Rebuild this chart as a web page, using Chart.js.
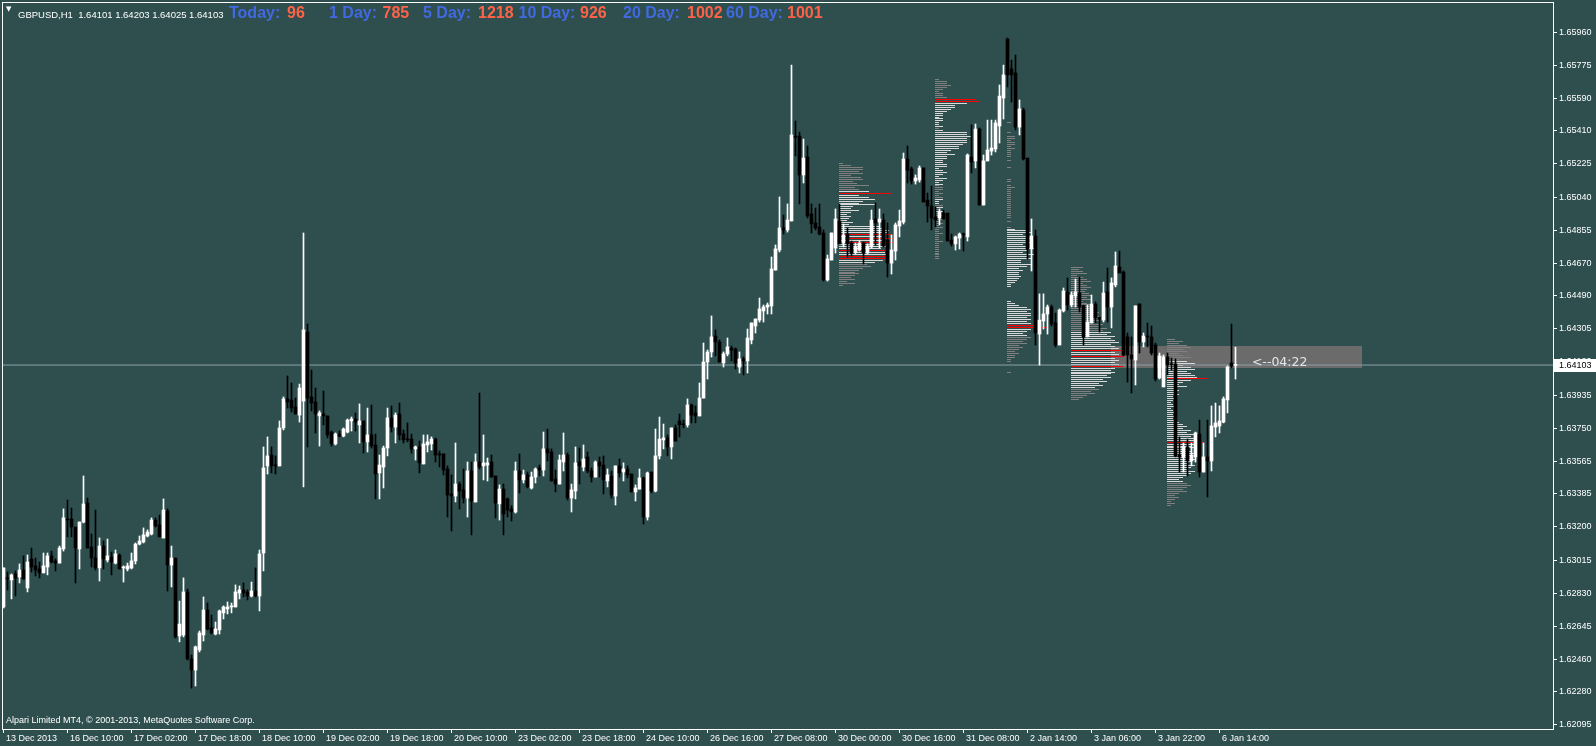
<!DOCTYPE html>
<html>
<head>
<meta charset="utf-8">
<script src="https://cdn.jsdelivr.net/npm/chart.js@4.4.1/dist/chart.umd.min.js"></script>
<style>
  html, body { margin: 0; padding: 0; background: #2F4F4F; overflow: hidden; }
  #wrap { position: relative; width: 1596px; height: 746px; }
  #chart { position: absolute; left: 0; top: 0; }
  .txt { position: absolute; white-space: pre; font-family: "Liberation Sans", Arial, sans-serif; line-height: 10px; }
  #tri { left: 6px; top: 4px; font-size: 7px; color: #fff; font-family: "DejaVu Sans", sans-serif; }
  #sym { left: 18px; top: 10px; font-size: 9.5px; color: #fff; }
  .stat { top: 5px; font-size: 16px; font-weight: bold; line-height: 16px; }
  .lbl { color: #4169E1; }
  .val { color: #FF6347; }
  #copy { left: 6px; top: 715px; font-size: 9px; color: #fff; }
</style>
</head>
<body>
<div id="wrap">
  <canvas id="chart" width="1596" height="746"></canvas>
  <div id="tri" class="txt">▼</div>
  <div id="sym" class="txt"></div>
  <div id="copy" class="txt">Alpari Limited MT4, © 2001-2013, MetaQuotes Software Corp.</div>
</div>
<script>
// GBPUSD H1 bars, 13 Dec 2013 18:00 .. 6 Jan 2014 18:00
const opens = [
  1.62753,1.62915,1.62904,1.62937,1.62920,1.62959,1.62859,1.63021,1.62982,1.62965,
  1.62943,1.62976,1.63038,1.63010,1.62998,1.63077,1.63244,1.63244,1.63199,1.63077,
  1.63227,1.63333,1.63088,1.63026,1.62971,1.63093,1.63015,1.63032,1.62998,1.63043,
  1.62971,1.62965,1.62971,1.63010,1.63104,1.63116,1.63149,1.63160,1.63238,1.63211,
  1.63138,1.63289,1.62987,1.63026,1.62591,1.62597,1.62837,1.62463,1.62401,1.62513,
  1.62597,1.62736,1.62636,1.62602,1.62625,1.62720,1.62742,1.62753,1.62753,1.62831,
  1.62848,1.62837,1.62814,1.62842,1.62814,1.63054,1.63540,1.63601,1.63545,1.63540,
  1.63752,1.63914,1.63908,1.63869,1.63824,1.63902,1.64287,1.63925,1.63897,1.63819,
  1.63830,1.63819,1.63729,1.63663,1.63718,1.63707,1.63729,1.63791,1.63802,1.63769,
  1.63791,1.63674,1.63713,1.63657,1.63501,1.63534,1.63640,1.63808,1.63757,1.63830,
  1.63718,1.63690,1.63690,1.63635,1.63646,1.63551,1.63657,1.63663,1.63690,1.63607,
  1.63607,1.63523,1.63384,1.63372,1.63439,1.63406,1.63361,1.63512,1.63339,1.63562,
  1.63540,1.63545,1.63562,1.63484,1.63328,1.63411,1.63356,1.63300,1.63283,1.63512,
  1.63462,1.63490,1.63417,1.63478,1.63529,1.63517,1.63635,1.63618,1.63467,1.63439,
  1.63562,1.63601,1.63361,1.63400,1.63562,1.63534,1.63590,1.63512,1.63478,1.63562,
  1.63545,1.63456,1.63484,1.63372,1.63540,1.63506,1.63523,1.63495,1.63395,1.63411,
  1.63473,1.63255,1.63506,1.63400,1.63596,1.63685,1.63696,1.63646,1.63752,1.63791,
  1.63774,1.63769,1.63880,1.63836,1.63819,1.63919,1.64120,1.64176,1.64265,1.64232,
  1.64115,1.64165,1.64198,1.64193,1.64092,1.64137,1.64126,1.64243,1.64321,1.64354,
  1.64405,1.64427,1.64433,1.64633,1.64745,1.64868,1.64857,1.64907,1.65381,1.65381,
  1.65164,1.65264,1.64946,1.64896,1.64873,1.64840,1.64578,1.64689,1.64756,1.64907,
  1.64784,1.64834,1.64784,1.64734,1.64745,1.64784,1.64728,1.64762,1.64918,1.64901,
  1.64912,1.64801,1.64672,1.64739,1.64879,1.64901,1.65253,1.65197,1.65130,1.65136,
  1.65203,1.65024,1.64991,1.64929,1.64924,1.64951,1.64951,1.64801,1.64779,1.64812,
  1.64834,1.64818,1.65264,1.65242,1.65420,1.64996,1.65242,1.65297,1.65309,1.65437,
  1.65593,1.65922,1.65755,1.65733,1.65431,1.65526,1.65258,1.64751,1.64823,1.64276,
  1.64349,1.64388,1.64427,1.64338,1.64215,1.64405,1.64511,1.64438,1.64488,1.64505,
  1.64433,1.64260,1.64338,1.64444,1.64366,1.64354,1.64511,1.64427,1.64550,1.64650,
  1.64622,1.64260,1.64159,1.64131,1.64444,1.64232,1.64265,1.64260,1.64215,1.64031,
  1.63981,1.64148,1.64109,1.64109,1.63601,1.63590,1.63646,1.63568,1.63590,1.63718,
  1.63506,1.63590,1.63568,1.63757,1.63763,1.63785,1.63908,1.64115,1.64101
];
const highs = [
  1.62971,1.62948,1.62937,1.62954,1.62993,1.63038,1.63043,1.63082,1.63026,1.63004,
  1.63054,1.63054,1.63065,1.63021,1.63093,1.63300,1.63350,1.63305,1.63199,1.63227,
  1.63484,1.63361,1.63160,1.63294,1.63138,1.63121,1.63132,1.63060,1.63071,1.63049,
  1.62982,1.62998,1.63054,1.63110,1.63149,1.63194,1.63183,1.63250,1.63250,1.63266,
  1.63356,1.63300,1.63093,1.63026,1.62786,1.62915,1.62853,1.62485,1.62535,1.62619,
  1.62809,1.62775,1.62708,1.62669,1.62736,1.62759,1.62781,1.62775,1.62876,1.62870,
  1.62887,1.62848,1.62892,1.62971,1.63071,1.63646,1.63702,1.63646,1.63596,1.63791,
  1.63925,1.64042,1.64003,1.63919,1.63997,1.64840,1.64332,1.64075,1.63975,1.63847,
  1.63958,1.63819,1.63735,1.63724,1.63735,1.63752,1.63802,1.63813,1.63836,1.63886,
  1.63791,1.63863,1.63880,1.63718,1.63601,1.63651,1.63863,1.63875,1.63836,1.63891,
  1.63741,1.63780,1.63718,1.63651,1.63679,1.63713,1.63713,1.63702,1.63696,1.63623,
  1.63607,1.63540,1.63490,1.63668,1.63450,1.63523,1.63562,1.63562,1.63607,1.63947,
  1.63713,1.63584,1.63601,1.63484,1.63434,1.63439,1.63361,1.63317,1.63562,1.63607,
  1.63517,1.63506,1.63506,1.63529,1.63545,1.63729,1.63746,1.63635,1.63517,1.63601,
  1.63724,1.63612,1.63439,1.63646,1.63640,1.63657,1.63618,1.63529,1.63568,1.63590,
  1.63596,1.63523,1.63512,1.63540,1.63579,1.63557,1.63540,1.63495,1.63434,1.63523,
  1.63478,1.63506,1.63506,1.63746,1.63813,1.63774,1.63713,1.63752,1.63769,1.63830,
  1.63796,1.63914,1.63886,1.63875,1.64003,1.64226,1.64187,1.64377,1.64299,1.64243,
  1.64176,1.64254,1.64209,1.64198,1.64176,1.64148,1.64304,1.64338,1.64360,1.64477,
  1.64438,1.64449,1.64706,1.64773,1.65041,1.64940,1.65002,1.65777,1.65465,1.65403,
  1.65364,1.65325,1.65002,1.64979,1.65002,1.64857,1.64717,1.64840,1.64974,1.65002,
  1.64890,1.64868,1.64795,1.64784,1.64795,1.64790,1.64779,1.64968,1.65007,1.64974,
  1.64946,1.64896,1.64829,1.64896,1.64968,1.65286,1.65325,1.65208,1.65164,1.65214,
  1.65203,1.65063,1.65102,1.64985,1.64974,1.64968,1.64951,1.64834,1.64823,1.64840,
  1.64840,1.65281,1.65443,1.65448,1.65426,1.65275,1.65470,1.65470,1.65470,1.65666,
  1.65777,1.65928,1.65805,1.65833,1.65582,1.65537,1.65258,1.64918,1.64857,1.64500,
  1.64500,1.64438,1.64438,1.64393,1.64416,1.64533,1.64589,1.64511,1.64583,1.64594,
  1.64438,1.64438,1.64494,1.64455,1.64371,1.64566,1.64645,1.64589,1.64734,1.64739,
  1.64628,1.64282,1.64260,1.64433,1.64444,1.64282,1.64338,1.64321,1.64226,1.64170,
  1.64159,1.64170,1.64142,1.64137,1.63702,1.63668,1.63690,1.63668,1.63729,1.63796,
  1.63668,1.63796,1.63875,1.63891,1.63875,1.63925,1.64098,1.64332,1.64203
];
const lows = [
  1.62747,1.62848,1.62798,1.62814,1.62887,1.62909,1.62837,1.62948,1.62926,1.62915,
  1.62943,1.62932,1.62998,1.62954,1.62998,1.63065,1.63144,1.63144,1.62887,1.62965,
  1.63222,1.63082,1.62976,1.62959,1.62898,1.62965,1.63004,1.62932,1.62993,1.62965,
  1.62892,1.62954,1.62965,1.62993,1.63099,1.63110,1.63144,1.63155,1.63199,1.63144,
  1.63138,1.62842,1.62865,1.62580,1.62558,1.62586,1.62457,1.62300,1.62312,1.62502,
  1.62563,1.62625,1.62602,1.62597,1.62602,1.62686,1.62714,1.62720,1.62753,1.62798,
  1.62809,1.62792,1.62809,1.62809,1.62731,1.62954,1.63495,1.63501,1.63495,1.63540,
  1.63741,1.63863,1.63841,1.63830,1.63785,1.63423,1.63646,1.63847,1.63724,1.63651,
  1.63769,1.63696,1.63651,1.63657,1.63702,1.63702,1.63724,1.63735,1.63735,1.63668,
  1.63612,1.63618,1.63640,1.63356,1.63356,1.63417,1.63596,1.63729,1.63668,1.63685,
  1.63668,1.63674,1.63612,1.63573,1.63501,1.63551,1.63618,1.63629,1.63562,1.63534,
  1.63490,1.63255,1.63177,1.63339,1.63300,1.63333,1.63255,1.63155,1.63339,1.63523,
  1.63462,1.63456,1.63478,1.63250,1.63238,1.63155,1.63255,1.63233,1.63277,1.63389,
  1.63445,1.63417,1.63411,1.63445,1.63484,1.63484,1.63568,1.63456,1.63395,1.63439,
  1.63512,1.63350,1.63283,1.63356,1.63439,1.63512,1.63501,1.63450,1.63478,1.63478,
  1.63384,1.63423,1.63361,1.63322,1.63478,1.63456,1.63473,1.63395,1.63344,1.63411,
  1.63216,1.63238,1.63389,1.63395,1.63579,1.63635,1.63596,1.63579,1.63679,1.63702,
  1.63752,1.63757,1.63780,1.63780,1.63819,1.63919,1.64025,1.64148,1.64154,1.64120,
  1.64092,1.64154,1.64126,1.64081,1.64059,1.64048,1.64059,1.64221,1.64282,1.64343,
  1.64343,1.64388,1.64388,1.64633,1.64734,1.64834,1.64845,1.64907,1.65270,1.65002,
  1.65119,1.64924,1.64840,1.64857,1.64829,1.64572,1.64572,1.64689,1.64728,1.64779,
  1.64762,1.64706,1.64712,1.64723,1.64739,1.64667,1.64723,1.64756,1.64773,1.64756,
  1.64762,1.64594,1.64611,1.64689,1.64818,1.64890,1.65119,1.65113,1.65113,1.65124,
  1.65013,1.64901,1.64857,1.64873,1.64885,1.64918,1.64795,1.64767,1.64745,1.64751,
  1.64739,1.64795,1.65175,1.65203,1.64996,1.64996,1.65242,1.65275,1.65292,1.65342,
  1.65476,1.65655,1.65571,1.65415,1.65387,1.65247,1.64695,1.64628,1.64215,1.64103,
  1.64304,1.64276,1.64321,1.64204,1.64215,1.64399,1.64410,1.64427,1.64427,1.64399,
  1.64215,1.64260,1.64338,1.64338,1.64287,1.64343,1.64343,1.64310,1.64539,1.64617,
  1.64154,1.64008,1.63947,1.63992,1.64170,1.64204,1.64204,1.64159,1.64014,1.64025,
  1.63981,1.64048,1.64075,1.63590,1.63506,1.63506,1.63484,1.63540,1.63562,1.63478,
  1.63506,1.63367,1.63512,1.63702,1.63724,1.63780,1.63836,1.64087,1.64025
];
const closes = [
  1.62971,1.62910,1.62932,1.62915,1.62959,1.62909,1.63004,1.62976,1.62959,1.62943,
  1.62982,1.63038,1.63004,1.62998,1.63082,1.63250,1.63238,1.63199,1.63082,1.63227,
  1.63328,1.63082,1.63026,1.62971,1.63093,1.63021,1.63038,1.63004,1.63049,1.62965,
  1.62976,1.62982,1.63010,1.63104,1.63121,1.63155,1.63171,1.63238,1.63205,1.63144,
  1.63294,1.62987,1.63026,1.62586,1.62658,1.62837,1.62463,1.62401,1.62530,1.62608,
  1.62736,1.62630,1.62608,1.62630,1.62731,1.62753,1.62753,1.62759,1.62837,1.62848,
  1.62831,1.62814,1.62842,1.62814,1.63049,1.63529,1.63596,1.63540,1.63540,1.63752,
  1.63914,1.63897,1.63863,1.63830,1.63975,1.64299,1.63919,1.63891,1.63830,1.63836,
  1.63819,1.63713,1.63663,1.63718,1.63707,1.63746,1.63796,1.63802,1.63785,1.63791,
  1.63674,1.63713,1.63651,1.63495,1.63545,1.63640,1.63808,1.63757,1.63824,1.63713,
  1.63685,1.63685,1.63635,1.63646,1.63557,1.63663,1.63674,1.63690,1.63601,1.63601,
  1.63517,1.63378,1.63372,1.63439,1.63400,1.63361,1.63512,1.63344,1.63562,1.63534,
  1.63557,1.63557,1.63478,1.63333,1.63411,1.63272,1.63294,1.63283,1.63512,1.63462,
  1.63490,1.63423,1.63478,1.63523,1.63517,1.63635,1.63612,1.63456,1.63439,1.63573,
  1.63601,1.63361,1.63406,1.63557,1.63540,1.63579,1.63512,1.63478,1.63562,1.63540,
  1.63462,1.63490,1.63378,1.63540,1.63501,1.63523,1.63490,1.63395,1.63417,1.63473,
  1.63255,1.63501,1.63400,1.63596,1.63690,1.63696,1.63646,1.63752,1.63679,1.63769,
  1.63770,1.63880,1.63824,1.63819,1.63919,1.64120,1.64176,1.64260,1.64232,1.64120,
  1.64165,1.64204,1.64187,1.64115,1.64137,1.64126,1.64254,1.64338,1.64360,1.64416,
  1.64427,1.64438,1.64639,1.64751,1.64868,1.64857,1.64912,1.65387,1.65375,1.65164,
  1.65258,1.64935,1.64890,1.64868,1.64834,1.64578,1.64695,1.64840,1.64918,1.64779,
  1.64829,1.64779,1.64728,1.64762,1.64784,1.64728,1.64767,1.64912,1.64896,1.64918,
  1.64767,1.64672,1.64745,1.64885,1.64907,1.65253,1.65191,1.65130,1.65147,1.65203,
  1.65013,1.64991,1.64924,1.64912,1.64957,1.64918,1.64795,1.64779,1.64818,1.64834,
  1.64830,1.65275,1.65236,1.65420,1.64996,1.65242,1.65303,1.65314,1.65454,1.65604,
  1.65722,1.65722,1.65722,1.65431,1.65532,1.65253,1.64751,1.64823,1.64282,1.64354,
  1.64388,1.64427,1.64332,1.64215,1.64410,1.64516,1.64438,1.64494,1.64511,1.64427,
  1.64260,1.64343,1.64444,1.64366,1.64360,1.64505,1.64427,1.64561,1.64656,1.64617,
  1.64159,1.64159,1.64137,1.64433,1.64232,1.64265,1.64260,1.64170,1.64025,1.64154,
  1.64148,1.64103,1.64105,1.63596,1.63590,1.63646,1.63568,1.63601,1.63724,1.63506,
  1.63590,1.63568,1.63763,1.63780,1.63791,1.63914,1.64092,1.64098,1.64103
];

// axis labels
const xTickBars = [0, 16, 32, 48, 64, 80, 96, 112, 128, 144, 160, 176, 192, 208, 224, 240, 256, 272, 288, 304];
const xTickLabels = ['13 Dec 2013', '16 Dec 10:00', '17 Dec 02:00', '17 Dec 18:00', '18 Dec 10:00', '19 Dec 02:00',
  '19 Dec 18:00', '20 Dec 10:00', '23 Dec 02:00', '23 Dec 18:00', '24 Dec 10:00', '26 Dec 16:00', '27 Dec 08:00',
  '30 Dec 00:00', '30 Dec 16:00', '31 Dec 08:00', '2 Jan 14:00', '3 Jan 06:00', '3 Jan 22:00', '6 Jan 14:00'];
const yTickValues = [1.65960, 1.65775, 1.65590, 1.65410, 1.65225, 1.65040, 1.64855, 1.64670, 1.64490, 1.64305,
  1.64120, 1.63935, 1.63750, 1.63565, 1.63385, 1.63200, 1.63015, 1.62830, 1.62645, 1.62460, 1.62280, 1.62095];

// header stats
const statLabels = ['Today:', '1 Day:', '5 Day:', '10 Day:', '20 Day:', '60 Day:'];
const statValues = [96, 785, 1218, 926, 1002, 1001];

// session volume profiles: rows from top price downward, g = outside value area, w = value area, r = peak
const p1Vol = [4,12,24,24,20,24,12,22,24,14, 18,30,16,20,30,52,20,30,36,24, 20,36,14,12,20,12,8,12,10,8,
  14,10,40,44,50,48,52,46,54,44, 54,40,48,42,52,46,50,54,54,44, 36,28,32,24,20,16,20,16,12,16, 8,16,4];
const p1Kind = 'g'.repeat(14) + 'wr' + 'w'.repeat(20) + 'rwrwr' + 'www' + 'r' + 'ww' + 'rr' + 'ww' + 'g'.repeat(12);
const p2Vol = [4,12,12,16,12,8,4,8,8,12, 40,44,32,20,20,16,12,8,8,4, 8,8,4,4,8,4,8,32,32,36,
  32,32,32,28,24,24,16,12,20,12, 12,8,8,12,12,4,8,12,8,4, 12,8,4,8,4,8,8,4,8,4,
  8,8,4,4,8,8,4,8,4,8, 4,8,4,8,4,8,4,4,8,4, 4,4,8,4,4,4,4,4,4,4, 4,4];
const p2Kind = 'gggggggggg' + 'rrwwwwwwww' + 'wwwwwgwwww' + 'w'.repeat(20) + 'wwwwgggggg' + 'gwwwgwgwgg' + 'g'.repeat(22);
const p3Vol = [4,0,0,0,0,4,0,8,8,4, 8,8,4,8,4,4,4,4,0,4, 0,0,0,4,0,0,0,0,0,4, 4,0,4,8,4,4,4,4,4,4,
  4,4,4,4,4,4,4,4,4,0, 4,0,0,4,8,20,24,16,20,24, 20,24,16,20,28,20,16,28,20,24, 14,14,24,20,12,16,12,12,14,12,
  10,8,4,4,0,0,0,0,0,0, 0,4,8,12,20,24,20,24,24,20, 24,20,24,28,40,24,20,16,20,24, 20,16,20,12,16,12,8,12,8,8,
  4,4,0,0,0,0,0,4];
const p3Kind = 'g'.repeat(54) + 'w'.repeat(49) + 'rr' + 'wwww' + 'g'.repeat(19);
const p4Vol = [12,8,12,16,6,12,16,20,12,16, 20,16,14,18,20,16,20,12,16,20, 24,20,24,28,24,28,32,28,24,32,
  28,36,32,40,36,44,40,44,48,40, 44,48,55,44,48,52,44,48,44,48, 52,44,40,44,40,36,40,32,36,28, 32,24,28,20,24,16,12,8];
const p4Kind = 'g'.repeat(33) + 'w'.repeat(9) + 'r' + 'ww' + 'r' + 'wwww' + 'r' + 'w'.repeat(11) + 'g'.repeat(6);
const p5Vol = [8,16,12,20,24,16,20,12,16,24, 12,20,28,16,24,28,20,24,28,30, 40,24,16,12,20,10,12,8,12,6,
  8,6,4,6,8,4,6,8,6,8, 6,8,12,16,20,16,24,20,28,24, 28,30,36,28,24,28,20,24,28,24,
  20,28,24,20,28,24,20,28,24,20, 16,12,16,20,24,20,16,20,12,8, 12,8,4,8,4];
const p5Kind = 'g'.repeat(11) + 'w'.repeat(9) + 'r' + 'w'.repeat(31) + 'r' + 'w'.repeat(20) + 'g'.repeat(12);
const profileStarts = [208.9, 232.9, 250.9, 266.9, 290.9];
const profileTops = [1.65230, 1.65699, 1.65459, 1.64650, 1.64248];
const profileStep = 0.00011;
const volToBars = 0.25;

// bar timer box
const timerBars = [276.9, 339.7];
const timerPrices = [1.64209, 1.64087];
const timerText = '<--04:22';
const timerAnchor = [312.1, 1.64116];

const profiles = [
  { vol: p1Vol, kind: p1Kind }, { vol: p2Vol, kind: p2Kind }, { vol: p3Vol, kind: p3Kind },
  { vol: p4Vol, kind: p4Kind }, { vol: p5Vol, kind: p5Kind }
].map((p, i) => ({ ...p, start: profileStarts[i], top: profileTops[i] }));
const kindColors = { g: '#808080', w: '#D8D8D8', r: '#FF0000' };

const last = closes.length - 1;
const fmt = v => v.toFixed(5);
document.getElementById('sym').textContent =
  'GBPUSD,H1  ' + [opens[last], highs[last], lows[last], closes[last]].map(fmt).join(' ');

const wrap = document.getElementById('wrap');
const labelX = [229, 329, 423, 518.5, 623, 726];
const valueX = [287, 382.5, 478, 580, 687, 787];
statLabels.forEach((t, i) => {
  const a = document.createElement('div');
  a.className = 'txt stat lbl'; a.style.left = labelX[i] + 'px'; a.textContent = t;
  const b = document.createElement('div');
  b.className = 'txt stat val'; b.style.left = valueX[i] + 'px'; b.textContent = statValues[i];
  wrap.appendChild(a); wrap.appendChild(b);
});

const candleColors = opens.map((o, i) => closes[i] >= o ? '#FFFFFF' : '#000000');
const xMin = -0.375, xMax = 387.375;

const mt4Overlay = {
  id: 'mt4Overlay',
  beforeDatasetsDraw(chart) {
    const { ctx, chartArea: a, scales: { x, y } } = chart;
    ctx.save();
    ctx.beginPath();
    ctx.rect(a.left, a.top, a.right - a.left, a.bottom - a.top);
    ctx.clip();
    const bx0 = Math.round(x.getPixelForValue(timerBars[0]));
    const bx1 = Math.round(x.getPixelForValue(timerBars[1]));
    const by0 = Math.round(y.getPixelForValue(timerPrices[0]));
    const by1 = Math.round(y.getPixelForValue(timerPrices[1]));
    ctx.fillStyle = '#6B6B6B';
    ctx.fillRect(bx0, by0, bx1 - bx0, by1 - by0);
    profiles.forEach(p => {
      const x0 = Math.round(x.getPixelForValue(p.start));
      p.vol.forEach((v, i) => {
        if (!v) return;
        const py = Math.round(y.getPixelForValue(p.top - i * profileStep));
        const x1 = Math.round(x.getPixelForValue(p.start + v * volToBars));
        ctx.fillStyle = kindColors[p.kind[i]];
        ctx.fillRect(x0, py, x1 - x0, 1);
      });
    });
    ctx.restore();
  },
  afterDatasetsDraw(chart) {
    const { ctx, scales: { x, y } } = chart;
    ctx.save();
    ctx.font = '12.5px "DejaVu Sans", sans-serif';
    ctx.fillStyle = '#E2E6EA';
    ctx.textBaseline = 'middle';
    ctx.fillText(timerText, x.getPixelForValue(timerAnchor[0]), y.getPixelForValue(timerAnchor[1]));
    ctx.restore();
  },
  afterDraw(chart) {
    const { ctx, chartArea: a, scales: { y } } = chart;
    ctx.save();
    ctx.strokeStyle = '#FFFFFF';
    ctx.lineWidth = 1;
    ctx.strokeRect(a.left + 0.5, a.top + 0.5, a.right - a.left, a.bottom - a.top);
    const py = Math.round(y.getPixelForValue(closes[last]));
    ctx.fillStyle = '#FFFFFF';
    ctx.fillRect(a.right + 1, py - 6, 42, 13);
    ctx.fillStyle = '#000000';
    ctx.font = '9px "Liberation Sans", Arial, sans-serif';
    ctx.textBaseline = 'middle';
    ctx.fillText(fmt(closes[last]), a.right + 6, py + 0.5);
    ctx.restore();
  }
};

const axisFont = { family: '"Liberation Sans", Arial, sans-serif', size: 9 };

new Chart(document.getElementById('chart'), {
  type: 'bar',
  data: {
    datasets: [
      {
        label: 'body',
        data: opens.map((o, i) => ({ x: i, y: [o, closes[i]] })),
        backgroundColor: candleColors,
        barThickness: 3,
        minBarLength: 1,
        grouped: false,
        order: 0
      },
      {
        label: 'wick',
        data: lows.map((l, i) => ({ x: i, y: [l, highs[i]] })),
        backgroundColor: candleColors,
        barThickness: 1,
        minBarLength: 1,
        grouped: false,
        order: 1
      },
      {
        type: 'line',
        label: 'price',
        data: [{ x: xMin, y: closes[last] }, { x: xMax, y: closes[last] }],
        borderColor: '#8EA0A7',
        borderWidth: 1,
        pointRadius: 0,
        order: 2
      }
    ]
  },
  options: {
    responsive: false,
    devicePixelRatio: 1,
    animation: false,
    events: [],
    layout: { padding: { left: 2, top: 2, right: 0, bottom: 0 } },
    plugins: { legend: { display: false }, tooltip: { enabled: false } },
    scales: {
      x: {
        type: 'linear',
        min: xMin,
        max: xMax,
        offset: false,
        border: { display: false },
        grid: { drawOnChartArea: false, drawTicks: true, tickLength: 4, color: '#FFFFFF', offset: false },
        ticks: {
          autoSkip: false, maxRotation: 0, minRotation: 0, align: 'start', padding: 0,
          color: '#FFFFFF', font: axisFont,
          callback: (v, i) => ' ' + xTickLabels[i]
        },
        afterBuildTicks: s => { s.ticks = xTickBars.map(v => ({ value: v })); },
        afterFit: s => { s.height = 17; s.paddingLeft = 0; s.paddingRight = 0; s.paddingTop = 0; s.paddingBottom = 0; }
      },
      y: {
        type: 'linear',
        position: 'right',
        min: 1.62072,
        max: 1.66129,
        border: { display: false },
        grid: { drawOnChartArea: false, drawTicks: true, tickLength: 4, color: '#FFFFFF' },
        ticks: {
          autoSkip: false, padding: 2, color: '#FFFFFF', font: axisFont,
          callback: v => fmt(v)
        },
        afterBuildTicks: s => { s.ticks = yTickValues.map(v => ({ value: v })); },
        afterFit: s => { s.width = 43; s.paddingLeft = 0; s.paddingRight = 0; s.paddingTop = 0; s.paddingBottom = 0; }
      }
    }
  },
  plugins: [mt4Overlay]
});
</script>
</body>
</html>
